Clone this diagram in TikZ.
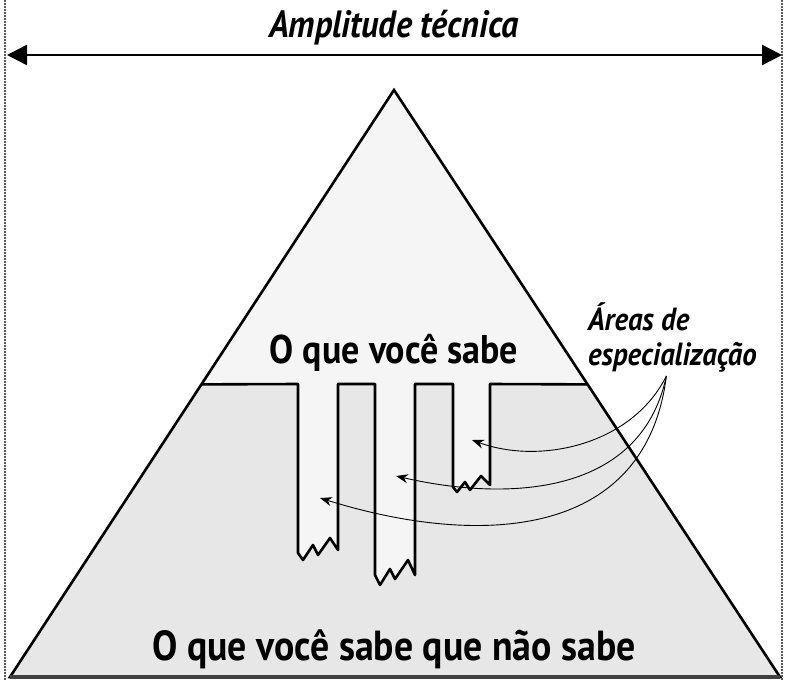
\documentclass[tikz,border=0pt]{standalone}
\usepackage{fontspec}
\usepackage{tikz}
\usetikzlibrary{arrows.meta,calc}
\newfontfamily\narrowsans[FakeStretch=0.9]{PT Sans}
\definecolor{knowngray}{RGB}{245,245,245}
\definecolor{unknowngray}{RGB}{231,231,231}
\definecolor{guidegray}{RGB}{90,90,90}

\begin{document}
\begin{tikzpicture}[x=1pt,y=-1pt]
            \useasboundingbox (0,0) rectangle (796,680);

            % Pyramid corners
            \coordinate (apex) at (394,90);
            \coordinate (botleft) at (10,677);
            \coordinate (botright) at (780,677);
            \coordinate (midleft) at ($(apex)!0.5015!(botleft)$);
            \coordinate (midright) at ($(apex)!0.5015!(botright)$);

            % Upper part: what you know
            \fill[knowngray] (apex) -- (botright) -- (botleft) -- cycle;

            % Lower part with the three cut-in areas
            \fill[unknowngray] (midleft) -- (298,384) -- (298,553) -- (303,560) -- (313,545) -- (318,555) -- (330,538) -- (338,550)
                -- (338,384) -- (375,384) -- (375,575) -- (380,585) -- (390,569) -- (395,579) -- (408,560) -- (415,575)
                -- (415,384) -- (453,384) -- (453,487) -- (457,492) -- (465,482) -- (470,490) -- (481,476) -- (490,485)
                -- (490,384) -- (midright) -- (botright) -- (botleft) -- cycle;
            \draw[line width=2.6, line join=round] (midleft) -- (298,384) -- (298,553) -- (303,560) -- (313,545) -- (318,555) -- (330,538) -- (338,550)
                -- (338,384) -- (375,384) -- (375,575) -- (380,585) -- (390,569) -- (395,579) -- (408,560) -- (415,575)
                -- (415,384) -- (453,384) -- (453,487) -- (457,492) -- (465,482) -- (470,490) -- (481,476) -- (490,485)
                -- (490,384) -- (midright);

            % Pyramid outline
            \draw[line width=2.6, line join=miter] (apex) -- (botright) -- (botleft) -- cycle;
            \draw[line width=3.5, black!75] (botleft) -- (botright);

            % Width guides and arrow
            \draw[guidegray, line width=1.6, dash pattern=on 1.6 off 1.4] (5,0) -- (5,680);
            \draw[guidegray, line width=1.6, dash pattern=on 1.6 off 1.4] (782,0) -- (782,680);
            \coordinate (wleft) at (7,55);
            \coordinate (wright) at (782,55);
            \draw[{Triangle[length=20,width=20]}-{Triangle[length=20,width=20]}, line width=2.6] (wleft) -- (wright);
            \node[font=\narrowsans\bfseries\itshape\fontsize{38}{40}\selectfont, anchor=base] (amplitude) at (394,37) {Amplitude técnica};

            % Labels
            \node[font=\narrowsans\bfseries\fontsize{40}{44}\selectfont, anchor=base] (known) at (394,363) {O que você sabe};
            \node[font=\narrowsans\bfseries\fontsize{42}{46}\selectfont, anchor=base] (unknown) at (394,660) {O que você sabe que não sabe};
            \node[font=\narrowsans\bfseries\itshape\fontsize{32}{36}\selectfont, anchor=base west, inner sep=0] (areasa) at (588,330) {Áreas de};
            \node[font=\narrowsans\bfseries\itshape\fontsize{32}{36}\selectfont, anchor=base west, inner sep=0] (areasb) at (588,365) {especialização};

            % Pointers into the areas
            \coordinate (tipa) at (472,440);
            \coordinate (tipb) at (396,476);
            \coordinate (tipc) at (320,498);
            \draw[-{Stealth[length=12,width=9]}, line width=0.9] ([xshift=-6,yshift=-4]areasb.south) .. controls (632,445) and (540,465) .. (tipa);
            \draw[-{Stealth[length=12,width=9]}, line width=0.9] ([xshift=-6,yshift=-4]areasb.south) .. controls (640,500) and (500,500) .. (tipb);
            \draw[-{Stealth[length=12,width=9]}, line width=0.9] ([xshift=-6,yshift=-4]areasb.south) .. controls (645,545) and (470,545) .. (tipc);
        \end{tikzpicture}
\end{document}
